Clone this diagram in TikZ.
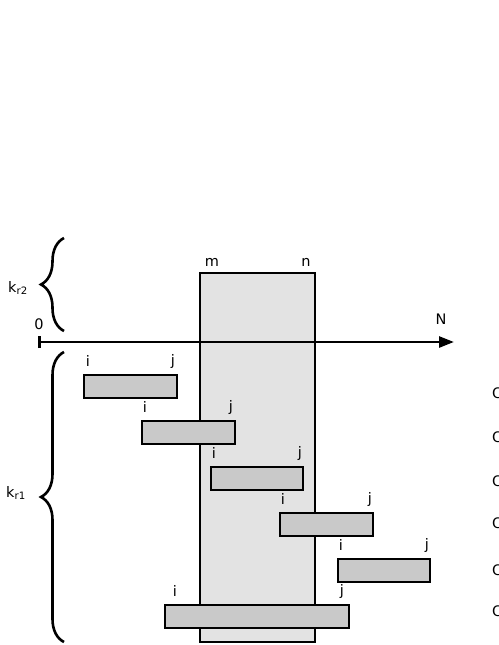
\documentclass[tikz,border=0pt]{standalone}
\usepackage{fontspec}
\setmainfont{DejaVu Sans}
\usetikzlibrary{arrows.meta,decorations.pathreplacing}

\begin{document}
\begin{tikzpicture}[x=1pt, y=-1pt,
    every node/.style={font=\fontsize{14.5}{17}\selectfont, inner sep=0pt},
    window/.style={draw, line width=2.6pt, fill=black!11},
    bar/.style={draw, line width=2.6pt, fill=black!21},
    brace/.style={decorate, decoration={brace, amplitude=23pt, aspect=0.5}, line width=2.6pt}]
  \useasboundingbox (0,0) rectangle (498,645);
  % window m..n
  \draw[window] (200,273) rectangle (315,642);
  \node (m) at (212,262) {m};
  \node (n) at (306,262) {n};
  % axis
  \coordinate (o) at (38,342);
  \coordinate (e) at (454,342);
  \draw[line width=2.6pt, {Bar[width=12pt]}-{Triangle[length=15pt, width=11pt]}] (o) -- (e);
  \node (zero) at (39,324) {0};
  \node (N) at (441,319) {N};
  % intervals
  \foreach \k/\xa/\xb/\y/\xi/\xj in {1/84/177/375/88/173, 2/142/235/421/145/231, 3/211/303/467/214/300, 4/280/373/513/283/370, 5/338/430/559/341/427, 6/165/349/605/175/342}
    {
      \draw[bar] (\xa,\y) rectangle (\xb,\y+23);
      \node (i\k) at (\xi,\y-14) {i};
      \node (j\k) at (\xj,\y-14) {j};
    }
  % braces
  \coordinate (b2top) at (64,238);
  \coordinate (b2bot) at (64,331);
  \coordinate (b1top) at (64,352);
  \coordinate (b1bot) at (64,642);
  \draw[brace] (b2bot) -- (b2top);
  \draw[brace] (b1bot) -- (b1top);
  \node (kr2) at (18,288) {k\textsubscript{r2}};
  \node (kr1) at (16,493) {k\textsubscript{r1}};
  % cut-off labels on the right
  \foreach \k/\y in {1/393, 2/437, 3/481, 4/523, 5/570, 6/611}
    \node[anchor=west] (c\k) at (492,\y) {C};
\end{tikzpicture}
\end{document}
